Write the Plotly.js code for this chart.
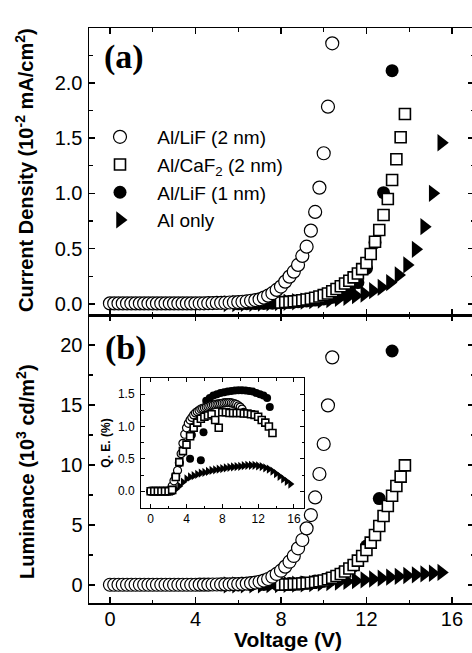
<!DOCTYPE html>
<html>
<head>
<meta charset="utf-8">
<script src="https://cdn.plot.ly/plotly-3.0.1.min.js"></script>
<style>
html,body{margin:0;padding:0;background:#fff;overflow:hidden;width:472px;height:653px;}
#chart{width:474px;height:653px;}
</style>
</head>
<body>
<div id="chart"></div>
<script>
// ---------- Data ----------
// Al/LiF (2 nm), open circles
const vLiF2 = [0,0.2,0.4,0.6,0.8,1.0,1.2,1.4,1.6,1.8,2.0,2.2,2.4,2.6,2.8,3.0,3.2,3.4,3.6,3.8,4.0,4.2,4.4,4.6,4.8,5.0,5.2,5.4,5.6,5.8,6.0,6.2,6.4,6.6,6.8,7.0,7.2,7.4,7.6,7.8,8.0,8.2,8.4,8.6,8.8,9.0,9.2,9.4,9.6,9.8,10.0,10.2,10.4];
const jLiF2 = [0.005,0.005,0.005,0.005,0.005,0.005,0.005,0.005,0.005,0.005,0.005,0.005,0.005,0.005,0.005,0.005,0.005,0.005,0.005,0.005,0.005,0.006,0.006,0.007,0.008,0.009,0.010,0.011,0.013,0.015,0.017,0.020,0.024,0.029,0.035,0.042,0.057,0.075,0.097,0.127,0.157,0.202,0.247,0.292,0.353,0.434,0.518,0.663,0.832,1.052,1.363,1.784,2.357];
const lLiF2 = [0.02,0.02,0.02,0.02,0.02,0.02,0.02,0.02,0.02,0.02,0.02,0.02,0.02,0.02,0.02,0.02,0.02,0.02,0.02,0.02,0.02,0.03,0.03,0.03,0.04,0.04,0.05,0.05,0.06,0.07,0.08,0.10,0.12,0.15,0.20,0.27,0.37,0.50,0.69,0.92,1.19,1.53,1.94,2.42,3.06,3.75,4.72,5.83,7.30,9.25,11.75,14.97,18.97];
const qLiF2 = [0,0,0,0,0,0,0,0,0,0,0,0.02,0.08,0.16,0.24,0.32,0.44,0.58,0.74,0.88,0.98,1.05,1.10,1.14,1.18,1.21,1.23,1.25,1.27,1.28,1.29,1.30,1.31,1.32,1.33,1.335,1.34,1.345,1.35,1.355,1.36,1.365,1.37,1.37,1.37,1.365,1.36,1.35,1.34,1.32,1.30,1.27,1.22];

// Al/CaF2 (2 nm), open squares
const vCaF2 = [8.0,8.2,8.4,8.6,8.8,9.0,9.2,9.4,9.6,9.8,10.0,10.2,10.4,10.6,10.8,11.0,11.2,11.4,11.6,11.8,12.0,12.2,12.4,12.6,12.8,13.0,13.2,13.4,13.6,13.8];
const jCaF2 = [0.013,0.016,0.019,0.023,0.028,0.034,0.040,0.047,0.056,0.067,0.080,0.095,0.115,0.135,0.160,0.185,0.210,0.240,0.275,0.315,0.370,0.452,0.563,0.669,0.805,0.949,1.121,1.308,1.507,1.718];
const lCaF2 = [0.03,0.04,0.05,0.07,0.09,0.12,0.15,0.19,0.24,0.30,0.38,0.48,0.60,0.75,0.92,1.12,1.38,1.67,2.03,2.42,2.92,3.53,4.17,4.92,5.75,6.58,7.44,8.25,9.03,9.97];
const vQCaF2 = [0,0.4,0.8,1.2,1.6,2.0,2.4,2.8,3.2,3.6,4.0,4.4,4.8,5.2,5.6,6.0,6.4,6.8,7.2,7.6,8.0,8.4,8.8,9.2,9.6,10.0,10.4,10.8,11.2,11.6,12.0,12.4,12.8,13.2,13.6];
const qCaF2 = [0,0,0,0,0,0,0.02,0.22,0.45,0.62,0.72,0.85,0.98,1.06,1.12,1.15,1.17,1.19,1.10,0.98,1.22,1.22,1.21,1.21,1.21,1.21,1.20,1.20,1.19,1.18,1.15,1.10,1.06,1.00,0.90];

// Al/LiF (1 nm), filled circles
const vLiF1a = [6.0,6.4,6.8,7.2,7.6,8.0,8.4,8.8,9.2,9.6,10.0,10.4,10.8,11.2,11.6,12.0,12.4,12.8,13.2];
const jLiF1 = [0.001,0.002,0.003,0.005,0.007,0.010,0.015,0.020,0.027,0.035,0.045,0.060,0.085,0.125,0.193,0.322,0.555,1.006,2.110];
const vLiF1b = [6.0,6.6,7.2,7.8,8.4,9.0,9.6,10.2,10.8,11.4,12.0,12.6,13.2];
const lLiF1 = [0.01,0.02,0.04,0.07,0.12,0.20,0.33,0.55,0.95,1.60,3.25,7.20,19.5];
const vQLiF1 = [0,0.4,0.8,1.2,1.6,2.0,2.4,4.4,4.6,5.6,5.9,6.2,6.6,7.0,7.4,7.8,8.2,8.6,9.0,9.4,9.8,10.2,10.6,11.0,11.4,11.8,12.2,12.6,13.0,13.3];
const qLiF1 = [0,0,0,0,0,0,0,0.50,0.87,0.48,0.91,1.40,1.44,1.48,1.50,1.52,1.53,1.54,1.55,1.555,1.56,1.56,1.555,1.55,1.54,1.52,1.50,1.48,1.44,1.30];

// Al only, filled right triangles
const vAl = [5.5,5.9,6.3,6.7,7.1,7.5,7.9,8.3,8.7,9.1,9.5,9.9,10.3,10.7,11.1,11.5,11.9,12.3,12.7,13.1,13.5,13.9,14.3,14.7,15.1,15.5];
const jAl = [0.003,0.004,0.005,0.006,0.008,0.010,0.012,0.015,0.020,0.025,0.030,0.035,0.040,0.050,0.060,0.075,0.090,0.120,0.150,0.193,0.262,0.353,0.494,0.699,1.000,1.458];
const lAl = [0.005,0.01,0.01,0.015,0.02,0.03,0.04,0.05,0.07,0.09,0.12,0.16,0.20,0.25,0.30,0.36,0.43,0.50,0.57,0.65,0.72,0.79,0.85,0.92,0.98,1.05];
const vQAl = [0,0.4,0.8,1.2,1.6,2.0,2.4,2.8,3.2,3.6,4.0,4.4,4.8,5.2,5.6,6.0,6.4,6.8,7.2,7.6,8.0,8.4,8.8,9.2,9.6,10.0,10.4,10.8,11.2,11.6,12.0,12.4,12.8,13.2,13.6,14.0,14.4,14.8,15.2,15.6];
const qAl = [0,0,0,0,0,0,0,0.03,0.08,0.14,0.19,0.22,0.24,0.26,0.28,0.29,0.305,0.32,0.33,0.34,0.35,0.36,0.37,0.375,0.38,0.385,0.395,0.40,0.40,0.40,0.39,0.38,0.36,0.34,0.31,0.27,0.23,0.19,0.15,0.11];

const seriesNames = ['Al/LiF (2 nm)', 'Al/CaF<sub>2</sub> (2 nm)', 'Al/LiF (1 nm)', 'Al only'];
const panelLabels = ['(a)', '(b)'];
const axisTitles = {
  x: 'Voltage (V)',
  ya: 'Current Density (10<sup>-2</sup> mA/cm<sup>2</sup>)',
  yb: 'Luminance (10<sup>3</sup> cd/m<sup>2</sup>)',
  yinset: 'Q. E. (%)'
};

// ---------- Styles ----------
const openCircle = s => ({symbol:'circle', size:s, color:'#ffffff', line:{color:'#000', width:1.2}});
const openSquare = s => ({symbol:'square', size:s, color:'#ffffff', line:{color:'#000', width:1.6}});
const fillCircle = s => ({symbol:'circle', size:s, color:'#000', line:{color:'#000', width:0}});
const fillTri = s => ({symbol:'triangle-right', size:s, color:'#000', line:{color:'#000', width:0}});
const pad = '\u00A0';

function tr(x, y, name, marker, xa, ya, show) {
  return {type:'scatter', mode:'markers', x:x, y:y, name:pad + name, marker:marker,
          xaxis:xa, yaxis:ya, showlegend:show, cliponaxis:true, hoverinfo:'skip'};
}

const traces = [
  // panel (a)
  tr(vAl, jAl, seriesNames[3], fillTri(15), 'x2', 'y2', true),
  tr(vLiF1a, jLiF1, seriesNames[2], fillCircle(13), 'x2', 'y2', true),
  tr(vCaF2, jCaF2, seriesNames[1], openSquare(11), 'x2', 'y2', true),
  tr(vLiF2, jLiF2, seriesNames[0], openCircle(13), 'x2', 'y2', true),
  // panel (b)
  tr(vAl, lAl, seriesNames[3], fillTri(15), 'x', 'y', false),
  tr(vLiF1b, lLiF1, seriesNames[2], fillCircle(13), 'x', 'y', false),
  tr(vCaF2, lCaF2, seriesNames[1], openSquare(11), 'x', 'y', false),
  tr(vLiF2, lLiF2, seriesNames[0], openCircle(13), 'x', 'y', false),
  // inset
  tr(vQAl, qAl, seriesNames[3], fillTri(8), 'x3', 'y3', false),
  tr(vQLiF1, qLiF1, seriesNames[2], fillCircle(8), 'x3', 'y3', false),
  tr(vLiF2, qLiF2, seriesNames[0], openCircle(8), 'x3', 'y3', false),
  tr(vQCaF2, qCaF2, seriesNames[1], openSquare(7), 'x3', 'y3', false)
];

const F = 'Liberation Sans, Arial, sans-serif';
const axBase = {
  showline:true, linecolor:'#000', linewidth:1.5, mirror:'ticks',
  ticks:'inside', ticklen:6, tickwidth:1.5, tickcolor:'#000',
  showgrid:false, zeroline:false, tickfont:{family:F, size:20, color:'#000'},
  minor:{ticks:'inside', ticklen:3.5, tickwidth:1.2, tickcolor:'#000', showgrid:false}
};
const inBase = Object.assign({}, axBase, {
  linewidth:1, ticklen:4, tickwidth:1, tickfont:{family:F, size:12, color:'#000'},
  minor:{ticks:'inside', ticklen:2.5, tickwidth:1, tickcolor:'#000', showgrid:false}
});
const split = 288/575;
const W = 474;               // plot area runs just past the 472 px window, as in the cropped reference
const pw = W - 89;
const xr = [-0.98, -0.98 + pw * 4 / 85.5];
const px = p => (p - 89) / pw;        // pixel -> paper x
const py = p => (603 - p) / 575;      // pixel -> paper y

const layout = {
  width:W, height:653,
  margin:{l:89, r:0, t:28, b:50, pad:0},
  paper_bgcolor:'#fff', plot_bgcolor:'rgba(0,0,0,0)',
  font:{family:F, color:'#000', size:20},
  showlegend:true,
  legend:{x:px(88), xanchor:'left', y:0.8435, yanchor:'top', traceorder:'reversed',
          font:{family:F, size:19, color:'#000'}, itemwidth:54, bgcolor:'rgba(0,0,0,0)', borderwidth:0},
  xaxis: Object.assign({}, axBase, {anchor:'y', domain:[0,1], range:xr, tick0:0, dtick:4, ticklabelstandoff:-3,
          minor:Object.assign({}, axBase.minor, {dtick:2})}),
  xaxis2: Object.assign({}, axBase, {anchor:'y2', matches:'x', range:xr, tick0:0, dtick:4,
          showticklabels:false, minor:Object.assign({}, axBase.minor, {dtick:2})}),
  yaxis: Object.assign({}, axBase, {anchor:'x', domain:[0, split], range:[-1.5,22.5], tick0:0, dtick:5,
          minor:Object.assign({}, axBase.minor, {dtick:2.5}), ticklabelstandoff:1}),
  yaxis2: Object.assign({}, axBase, {anchor:'x2', domain:[split,1], range:[-0.1,2.4955], tick0:0, dtick:0.5,
          tickformat:'.1f', minor:Object.assign({}, axBase.minor, {dtick:0.25}), ticklabelstandoff:1}),
  xaxis3: Object.assign({}, inBase, {anchor:'y3', domain:[px(141), px(304)], range:[-1.08,17.12], tick0:0, dtick:4,
          minor:Object.assign({}, inBase.minor, {dtick:2})}),
  yaxis3: Object.assign({}, inBase, {anchor:'x3', domain:[0.1652,0.3913], range:[-0.26,1.75], tick0:0, dtick:0.5,
          tickformat:'.1f', minor:Object.assign({}, inBase.minor, {dtick:0.25}), ticklabelstandoff:3,
          title:{text:'<b>'+axisTitles.yinset+'</b>', font:{family:F, size:12}, standoff:4}}),
  annotations:[
    {text:'<b>'+axisTitles.x+'</b>', xref:'paper', yref:'paper', x:px(288), y:py(639), xanchor:'center', yanchor:'middle',
     showarrow:false, font:{family:F, size:21, color:'#000'}},
    {text:'<b>'+axisTitles.ya+'</b>', xref:'paper', yref:'paper', x:px(25), y:py(170), xanchor:'center', yanchor:'middle',
     textangle:-90, showarrow:false, font:{family:F, size:20, color:'#000'}},
    {text:'<b>'+axisTitles.yb+'</b>', xref:'paper', yref:'paper', x:px(25), y:py(472), xanchor:'center', yanchor:'middle',
     textangle:-90, showarrow:false, font:{family:F, size:20, color:'#000'}},
    {text:'<b>'+panelLabels[0]+'</b>', xref:'paper', yref:'paper', x:px(124), y:0.9496, xanchor:'center', yanchor:'middle',
     showarrow:false, font:{family:'Liberation Serif, Times New Roman, serif', size:34, color:'#000'}},
    {text:'<b>'+panelLabels[1]+'</b>', xref:'paper', yref:'paper', x:px(126), y:0.4435, xanchor:'center', yanchor:'middle',
     showarrow:false, font:{family:'Liberation Serif, Times New Roman, serif', size:34, color:'#000'}}
  ]
};

Plotly.newPlot('chart', traces, layout, {staticPlot:true, displayModeBar:false});
</script>
</body>
</html>
